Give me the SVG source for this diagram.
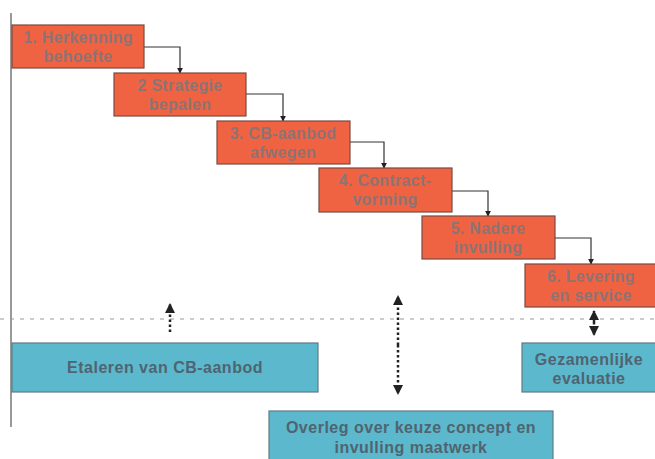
<svg xmlns="http://www.w3.org/2000/svg" width="655" height="459" viewBox="0 0 655 459">
<style>
.o{fill:#ef6342;stroke:#7a4a40;stroke-width:1.2}
.b{fill:#5cb8cd;stroke:#5f7a84;stroke-width:1.2}
.ot{font-family:"Liberation Sans",Arial,sans-serif;font-weight:bold;font-size:16px;letter-spacing:0.3px;fill:#8e7373;text-anchor:middle}
.bt{font-family:"Liberation Sans",Arial,sans-serif;font-weight:bold;font-size:16px;letter-spacing:0.5px;fill:#4f6470;text-anchor:middle}
.c{fill:none;stroke:#333;stroke-width:1.2}
.d{fill:none;stroke:#222;stroke-width:2.5;stroke-dasharray:2.5 2.5}
</style>
<defs>
<marker id="m" viewBox="0 0 8 8" refX="7" refY="4" markerWidth="5" markerHeight="5" orient="auto"><path d="M0,0L8,4L0,8z" fill="#222"/></marker>
<marker id="a" viewBox="0 0 10 10" refX="9" refY="5" markerWidth="4" markerHeight="4" orient="auto"><path d="M0,0L10,5L0,10z" fill="#222"/></marker>
</defs>
<line x1="11" y1="13" x2="11" y2="427" stroke="#555" stroke-width="1.2"/>
<line x1="0" y1="319" x2="655" y2="319" stroke="#999" stroke-width="1.2" stroke-dasharray="4 6"/>
<g id="connectors">
<path class="c" d="M144,47H180V73" marker-end="url(#m)"/>
<path class="c" d="M246,94H283V121" marker-end="url(#m)"/>
<path class="c" d="M350,142H384V168" marker-end="url(#m)"/>
<path class="c" d="M452,191H488V216" marker-end="url(#m)"/>
<path class="c" d="M555,238H591V264" marker-end="url(#m)"/>
<path class="d" d="M170,332V304" marker-end="url(#a)"/>
<path class="d" d="M398,345V296" marker-end="url(#a)"/>
<path class="d" d="M398,345V394" marker-end="url(#a)"/>
<path class="d" d="M594,322V311" marker-end="url(#a)"/>
<path class="d" d="M594,322V335" marker-end="url(#a)"/>
</g>
<g id="n1"><rect class="o" x="12" y="25" width="132" height="43"/><text class="ot" x="78" y="43">1. Herkenning</text><text class="ot" x="78" y="62">behoefte</text></g>
<g id="n2"><rect class="o" x="114" y="73" width="132" height="43"/><text class="ot" x="180" y="91">2 Strategie</text><text class="ot" x="180" y="110">bepalen</text></g>
<g id="n3"><rect class="o" x="217" y="121" width="133" height="43"/><text class="ot" x="283" y="139">3. CB-aanbod</text><text class="ot" x="283" y="158">afwegen</text></g>
<g id="n4"><rect class="o" x="319" y="168" width="133" height="44"/><text class="ot" x="385" y="186">4. Contract-</text><text class="ot" x="385" y="205">vorming</text></g>
<g id="n5"><rect class="o" x="422" y="216" width="133" height="43"/><text class="ot" x="488" y="234">5. Nadere</text><text class="ot" x="488" y="253">invulling</text></g>
<g id="n6"><rect class="o" x="525" y="264" width="132" height="43"/><text class="ot" x="591" y="282">6. Levering</text><text class="ot" x="591" y="301">en service</text></g>
<g id="b1"><rect class="b" x="12" y="343" width="306" height="49"/><text class="bt" x="165" y="373">Etaleren van CB-aanbod</text></g>
<g id="b2"><rect class="b" x="522" y="343" width="135" height="49"/><text class="bt" x="589" y="365">Gezamenlijke</text><text class="bt" x="589" y="384">evaluatie</text></g>
<g id="b3"><rect class="b" x="269" y="411" width="284" height="52"/><text class="bt" x="411" y="433">Overleg over keuze concept en</text><text class="bt" x="411" y="453">invulling maatwerk</text></g>
</svg>
